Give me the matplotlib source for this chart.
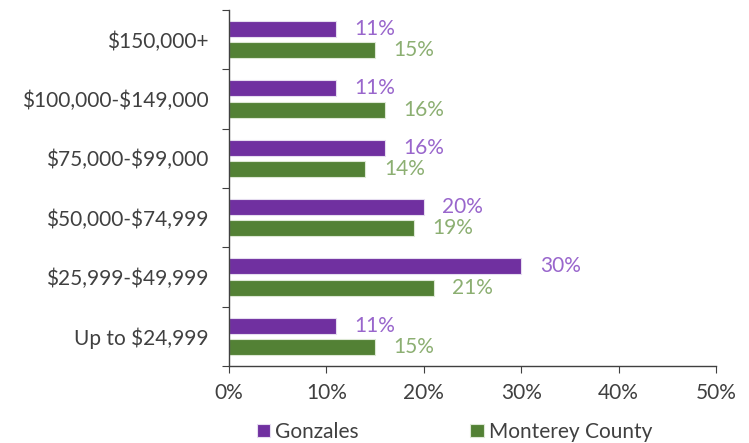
import numpy as np
import matplotlib.pyplot as plt
from matplotlib.ticker import FixedLocator, PercentFormatter

categories = ['Up to $24,999', '$25,999-$49,999', '$50,000-$74,999',
              '$75,000-$99,000', '$100,000-$149,000', '$150,000+']
gonzales = [11, 30, 20, 16, 11, 11]
monterey = [15, 21, 19, 14, 16, 15]

plt.rcParams['font.family'] = ['Lato', 'DejaVu Sans']
plt.rcParams['text.parse_math'] = False
purple, green = '#7030A0', '#538135'
purple_txt, green_txt = '#9966CC', '#8CAF72'
grey = '#404040'
fs = 15

fig = plt.figure(figsize=(7.49, 4.43), dpi=100)
ax = fig.add_axes([229 / 749, 1 - 366 / 443, (716 - 229) / 749, (366 - 10) / 443])

y = np.arange(len(categories))
off, h = 0.18, 0.27
b1 = ax.barh(y + off, gonzales, height=h, color=purple, edgecolor='#E6DDF0', linewidth=0.8, label='Gonzales')
b2 = ax.barh(y - off, monterey, height=h, color=green, edgecolor='#DDE8D5', linewidth=0.8, label='Monterey County')

for bar, v in zip(b1, gonzales):
    ax.text(v + 1.9, bar.get_y() + bar.get_height() / 2, f'{v}%', va='center', ha='left',
            fontsize=fs, color=purple_txt)
for bar, v in zip(b2, monterey):
    ax.text(v + 1.9, bar.get_y() + bar.get_height() / 2, f'{v}%', va='center', ha='left',
            fontsize=fs, color=green_txt)

ax.set_xlim(0, 50)
ax.set_ylim(-0.5, len(categories) - 0.5)
ax.set_xticks(np.arange(0, 51, 10))
ax.xaxis.set_major_formatter(PercentFormatter(decimals=0))
ax.yaxis.set_major_locator(FixedLocator(np.arange(-0.5, len(categories), 1)))
ax.yaxis.set_major_formatter(plt.NullFormatter())
ax.set_yticks(y, minor=True)
ax.set_yticklabels(categories, minor=True)
ax.tick_params(axis='y', which='minor', length=0, pad=15, labelsize=fs, labelcolor=grey)
ax.tick_params(axis='y', which='major', length=5, color=grey)
ax.tick_params(axis='x', length=5, color=grey, labelsize=fs, labelcolor=grey, pad=7)

for s in ['top', 'right']:
    ax.spines[s].set_visible(False)
for s in ['left', 'bottom']:
    ax.spines[s].set_color(grey)
    ax.spines[s].set_linewidth(1.0)

fig.legend(handles=[b1, b2], loc='center left', bbox_to_anchor=(257 / 749, 1 - 432 / 443), ncol=2,
           frameon=False, fontsize=fs, handlelength=0.63, handleheight=0.63, borderpad=0,
           borderaxespad=0, handletextpad=0.25, columnspacing=5.35, labelcolor=grey)

fig.savefig('out.png', dpi=100)
